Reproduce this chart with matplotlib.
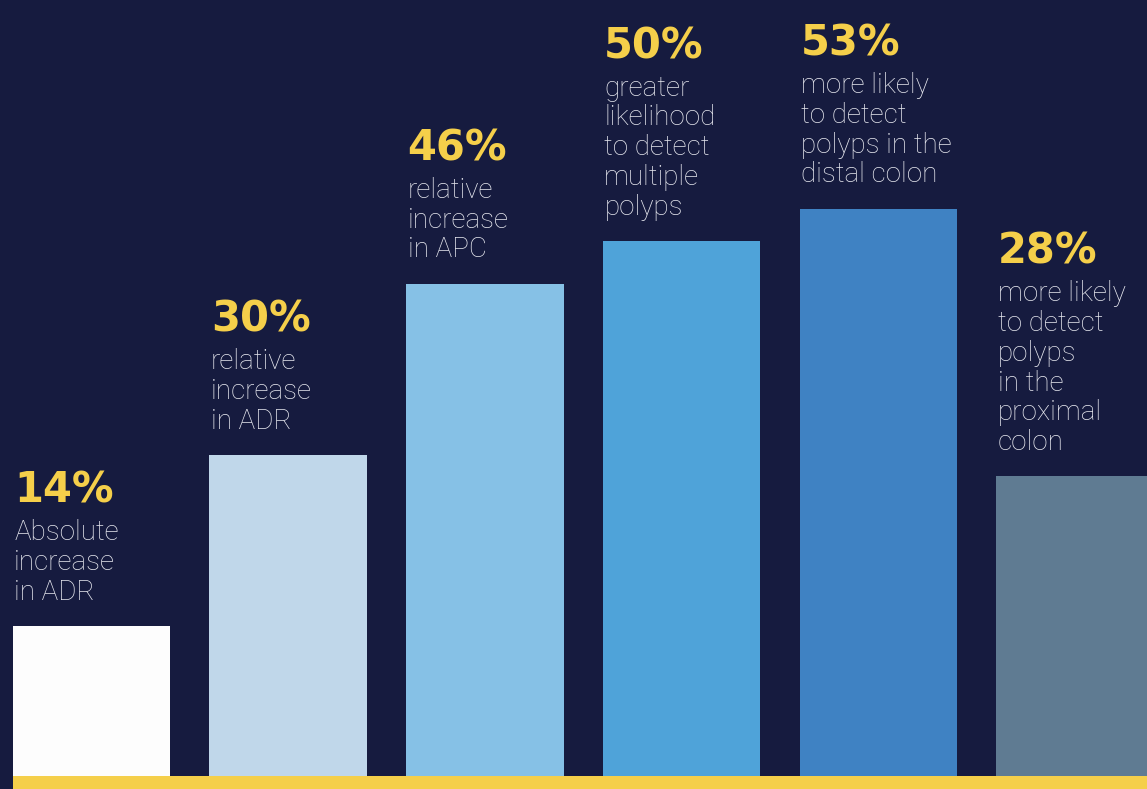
import matplotlib.pyplot as plt

# -------------------------
# Data
# -------------------------
values = [14, 30, 46, 50, 53, 28]
pct_labels = ["14%", "30%", "46%", "50%", "53%", "28%"]
descriptions = [
    ["Absolute", "increase", "in ADR"],
    ["relative", "increase", "in ADR"],
    ["relative", "increase", "in APC"],
    ["greater", "likelihood", "to detect", "multiple", "polyps"],
    ["more likely", "to detect", "polyps in the", "distal colon"],
    ["more likely", "to detect", "polyps", "in the", "proximal", "colon"],
]
bar_colors = ["#fdfdfd", "#c0d7ea", "#86c1e6", "#4fa3d9", "#3f82c3", "#5f7b92"]

# -------------------------
# Style
# -------------------------
bg = "#161b3f"
yellow = "#f5cf4a"
text_color = "#e8e9f0"
plt.rcParams['font.family'] = ['Roboto', 'DejaVu Sans']

fig = plt.figure(figsize=(11.47, 7.89), dpi=100)
fig.patch.set_facecolor(bg)
ax = fig.add_axes([0, 0, 1, 1])
ax.set_facecolor(bg)
ax.axis("off")

width = 0.8
x = list(range(len(values)))
ax.bar(x, values, width=width, color=bar_colors, zorder=2)

ax.set_xlim(-0.465, 5.366)
ax.set_ylim(-1.215, 72.52)

# yellow base strip
left_edge = x[0] - width / 2
ax.fill_between([left_edge, 5.366], -1.4, 0, color=yellow, lw=0, zorder=3)

# -------------------------
# Labels
# -------------------------
line_step = 21.4   # points between description lines
gap_top = 19       # last description baseline above bar top
gap_pct = 27       # percentage baseline above first line

for xi, val, pct, lines in zip(x, values, pct_labels, descriptions):
    lx = xi - width / 2
    n = len(lines)
    for j, line in enumerate(lines):
        off = gap_top + (n - 1 - j) * line_step
        ax.annotate(line, xy=(lx, val), xytext=(1, off), textcoords="offset points",
                    ha="left", va="baseline", fontsize=20, fontweight="light",
                    color=text_color)
    off = gap_top + (n - 1) * line_step + gap_pct
    ax.annotate(pct, xy=(lx, val), xytext=(1, off), textcoords="offset points",
                ha="left", va="baseline", fontsize=30, fontweight="bold",
                family="DejaVu Sans", color=yellow)

fig.savefig("out.png", dpi=100, facecolor=bg)
